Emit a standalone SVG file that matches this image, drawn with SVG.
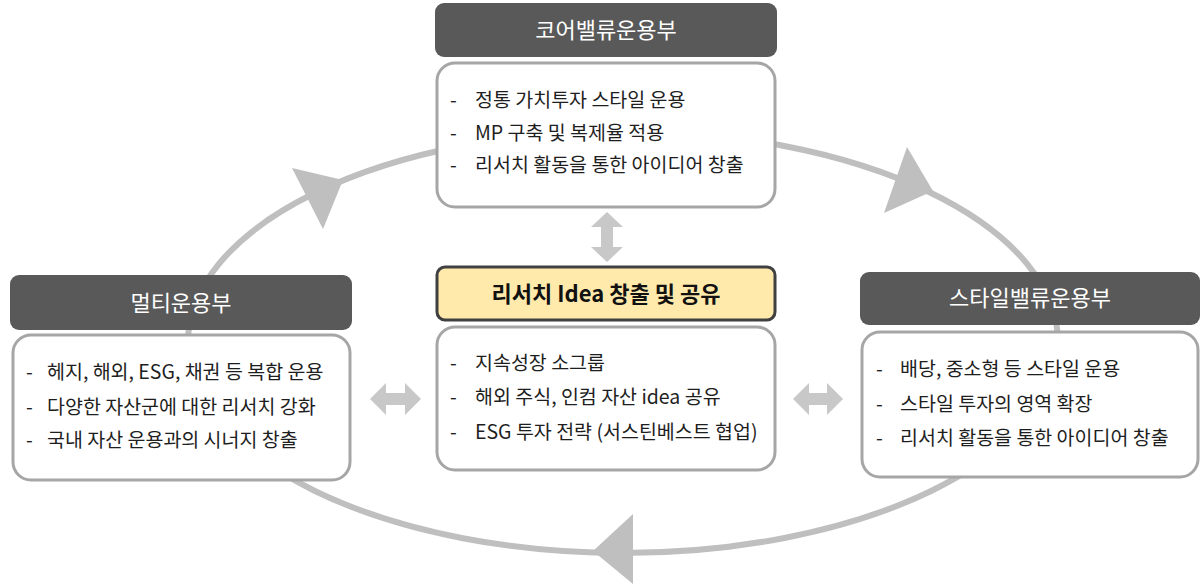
<svg xmlns="http://www.w3.org/2000/svg" width="1201" height="584" viewBox="0 0 1201 584">
<style>
.hdr{fill:#595959;}
.hdrt{fill:#ffffff;font-family:"Noto Sans CJK KR","Noto Sans",sans-serif;font-size:22px;text-anchor:middle;}
.body{fill:#ffffff;stroke:#a6a6a6;stroke-width:3;}
.bt{fill:#1e1e1e;font-family:"Noto Sans CJK KR","Noto Sans",sans-serif;font-size:19.5px;}
.cyc{fill:none;stroke:#bfbfbf;stroke-width:6;}
.ah{fill:#bfbfbf;}
.dbl{fill:#c8c8c8;}
</style>
<g id="connectors">
<ellipse class="cyc" cx="623" cy="342" rx="435" ry="211"/>
<polygon class="ah" points="292,168 343,180 323,229"/>
<polygon class="ah" points="907,147 933,191 884,213"/>
<polygon class="ah" points="593,551 633,514 633,584"/>
<polygon class="dbl" points="607,212 623,227 613,227 613,247 623,247 607,262 591,247 601,247 601,227 591,227"/>
<polygon class="dbl" points="370,399 386,383 386,393 405,393 405,383 421,399 405,415 405,405 386,405 386,415"/>
<polygon class="dbl" points="793,399 809,383 809,393 827,393 827,383 843,399 827,415 827,405 809,405 809,415"/>
</g>
<g id="core">
<rect class="hdr" x="435" y="3" width="342" height="54" rx="9"/>
<text class="hdrt" x="606" y="38">코어밸류운용부</text>
<rect class="body" x="437" y="63" width="338" height="144" rx="18"/>
<text class="bt" x="450" y="107">-</text><text class="bt" x="475" y="107">정통 가치투자 스타일 운용</text>
<text class="bt" x="450" y="140">-</text><text class="bt" x="475" y="140">MP 구축 및 복제율 적용</text>
<text class="bt" x="450" y="172">-</text><text class="bt" x="475" y="172">리서치 활동을 통한 아이디어 창출</text>
</g>
<g id="research">
<rect x="437" y="267" width="338" height="53" rx="8" fill="#ffe9ab" stroke="#404040" stroke-width="3"/>
<text x="606" y="302" fill="#111111" font-family="'Noto Sans CJK KR','Noto Sans',sans-serif" font-size="22" font-weight="bold" text-anchor="middle">리서치 Idea 창출 및 공유</text>
<rect class="body" x="437" y="327" width="338" height="143" rx="18"/>
<text class="bt" x="450" y="370">-</text><text class="bt" x="475" y="370">지속성장 소그룹</text>
<text class="bt" x="450" y="404">-</text><text class="bt" x="475" y="404">해외 주식, 인컴 자산 idea 공유</text>
<text class="bt" x="450" y="439">-</text><text class="bt" x="475" y="439">ESG 투자 전략 (서스틴베스트 협업)</text>
</g>
<g id="multi">
<rect class="hdr" x="10" y="275" width="342" height="55" rx="9"/>
<text class="hdrt" x="181" y="311">멀티운용부</text>
<rect class="body" x="13" y="335" width="337" height="145" rx="18"/>
<text class="bt" x="26" y="379">-</text><text class="bt" x="47" y="379">헤지, 해외, ESG, 채권 등 복합 운용</text>
<text class="bt" x="26" y="414">-</text><text class="bt" x="47" y="414">다양한 자산군에 대한 리서치 강화</text>
<text class="bt" x="26" y="447">-</text><text class="bt" x="47" y="447">국내 자산 운용과의 시너지 창출</text>
</g>
<g id="style">
<rect class="hdr" x="860" y="272" width="340" height="53" rx="9"/>
<text class="hdrt" x="1030" y="306">스타일밸류운용부</text>
<rect class="body" x="862" y="332" width="336" height="145" rx="18"/>
<text class="bt" x="876" y="376">-</text><text class="bt" x="900" y="376">배당, 중소형 등 스타일 운용</text>
<text class="bt" x="876" y="411">-</text><text class="bt" x="900" y="411">스타일 투자의 영역 확장</text>
<text class="bt" x="876" y="445">-</text><text class="bt" x="900" y="445">리서치 활동을 통한 아이디어 창출</text>
</g>
</svg>
